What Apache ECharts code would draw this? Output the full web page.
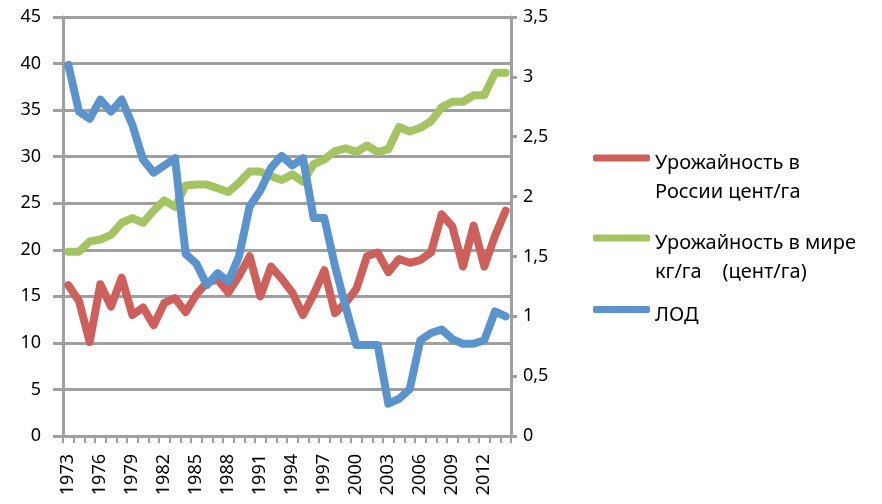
<!DOCTYPE html>
<html>
<head>
<meta charset="utf-8">
<script src="https://cdn.jsdelivr.net/npm/echarts@6/dist/echarts.min.js"></script>
<style>
  html, body { margin: 0; padding: 0; background: #fff; }
  #container { width: 882px; height: 504px; }
</style>
</head>
<body>
<div id="container"></div>
<script>
var years = [];
for (var y = 1973; y <= 2014; y++) years.push(String(y));

var russia = [16.2, 14.5, 10.1, 16.3, 13.9, 17.0, 13.0, 13.8, 11.9, 14.3,
    14.8, 13.3, 15.2, 16.5, 16.8, 15.4, 17.2, 19.3, 15.0, 18.2,
    16.9, 15.4, 13.0, 15.2, 17.8, 13.2, 14.3, 15.8, 19.3, 19.7,
    17.6, 19.0, 18.6, 18.9, 19.7, 23.8, 22.5, 18.2, 22.6, 18.2,
    21.5, 24.2];

var world = [19.8, 19.8, 20.9, 21.1, 21.6, 22.9, 23.4, 22.9, 24.2, 25.3,
    24.6, 26.9, 27.0, 27.0, 26.6, 26.2, 27.2, 28.4, 28.4, 27.9,
    27.5, 28.1, 27.3, 29.2, 29.7, 30.6, 30.9, 30.5, 31.2, 30.5,
    30.8, 33.2, 32.7, 33.1, 33.8, 35.3, 35.9, 35.9, 36.6, 36.6,
    39.0, 39.0];

var lod = [3.1, 2.71, 2.65, 2.81, 2.71, 2.81, 2.6, 2.31, 2.2, 2.26,
    2.32, 1.52, 1.44, 1.26, 1.36, 1.29, 1.5, 1.92, 2.05, 2.24,
    2.34, 2.26, 2.32, 1.82, 1.82, 1.42, 1.08, 0.76, 0.76, 0.76,
    0.27, 0.31, 0.39, 0.8, 0.86, 0.89, 0.81, 0.77, 0.77, 0.8,
    1.04, 1.0];

var nameRu = 'Урожайность в\nРоссии цент/га';
var nameWorld = 'Урожайность в мире\nкг/га    (цент/га)';
var nameLod = 'ЛОД';

var font = 'Noto Sans';
var grey = '#9f9f9f';

var dom = document.getElementById('container');
var myChart = echarts.init(dom);

// spacer line on top so the icon sits level with the first text line
function legendAt(name, top, spacer) {
    return {
        data: [name],
        orient: 'vertical',
        left: 593,
        top: top,
        padding: 0,
        itemWidth: 57,
        itemHeight: 7,
        itemGap: 0,
        icon: 'roundRect',
        selectedMode: false,
        formatter: function (n) {
            return '{s| }\n' + n.split('\n').map(function (l) {
                return '{t|' + l + '}';
            }).join('\n');
        },
        textStyle: {
            rich: {
                s: { fontSize: 4, lineHeight: spacer },
                t: { fontFamily: font, fontSize: 20, color: '#000', lineHeight: 29 }
            }
        }
    };
}

var option = {
    animation: false,
    textStyle: { fontFamily: font },
    grid: { left: 63, right: 371, top: 17, bottom: 68 },
    legend: [
        legendAt(nameRu, 127, 40),
        legendAt(nameWorld, 207, 40),
        legendAt(nameLod, 293, 11)
    ],
    xAxis: {
        type: 'category',
        data: years,
        boundaryGap: true,
        axisLine: { lineStyle: { color: grey, width: 3 } },
        axisTick: { show: true, interval: 0, length: 7, lineStyle: { color: grey, width: 2 } },
        axisLabel: {
            interval: 2,
            rotate: 90,
            margin: 18,
            fontSize: 18,
            color: '#000',
            fontFamily: font
        },
        splitLine: { show: false }
    },
    yAxis: [{
        type: 'value',
        min: 0,
        max: 45,
        interval: 5,
        axisLine: { show: true, lineStyle: { color: grey, width: 3 } },
        axisTick: { show: true, length: 10, lineStyle: { color: grey, width: 3 } },
        axisLabel: { margin: 22, fontSize: 18, color: '#000', fontFamily: font },
        splitLine: { show: true, lineStyle: { color: grey, width: 3 } }
    }, {
        type: 'value',
        min: 0,
        max: 3.5,
        interval: 0.5,
        position: 'right',
        axisLine: { show: true, lineStyle: { color: grey, width: 3 } },
        axisTick: { show: true, length: 6, lineStyle: { color: grey, width: 3 } },
        axisLabel: {
            margin: 12,
            fontSize: 18,
            color: '#000',
            fontFamily: font,
            formatter: function (v) { return String(v).replace('.', ','); }
        },
        splitLine: { show: false }
    }],
    series: [{
        name: nameRu,
        type: 'line',
        data: russia,
        yAxisIndex: 0,
        symbol: 'none',
        itemStyle: { color: '#cd605a' },
        lineStyle: { color: '#cd605a', width: 8, join: 'round', cap: 'round' },
        z: 2
    }, {
        name: nameWorld,
        type: 'line',
        data: world,
        yAxisIndex: 0,
        symbol: 'none',
        itemStyle: { color: '#a4c361' },
        lineStyle: { color: '#a4c361', width: 8, join: 'round', cap: 'round' },
        z: 3
    }, {
        name: nameLod,
        type: 'line',
        data: lod,
        yAxisIndex: 1,
        symbol: 'none',
        itemStyle: { color: '#5b94cc' },
        lineStyle: { color: '#5b94cc', width: 8, join: 'round', cap: 'round' },
        z: 4
    }]
};

if (option && typeof option === "object") {
    myChart.setOption(option, true);
}
</script>
</body>
</html>
